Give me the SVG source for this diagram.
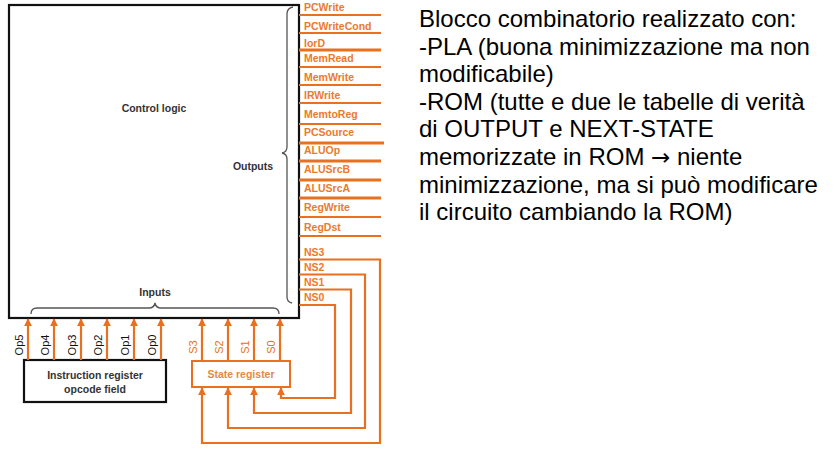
<svg xmlns="http://www.w3.org/2000/svg" width="837" height="453" viewBox="0 0 837 453">
<style>
.box{fill:#fff;stroke:#111;stroke-width:2.2}
.sig{fill:none;stroke:#e8701e;stroke-width:2.2}
.sigt{stroke-width:3}
.olab{font-family:"Liberation Sans",Arial,sans-serif;font-size:10.5px;font-weight:bold;fill:#ec7a2c}
.dlab{font-family:"Liberation Sans",Arial,sans-serif;font-size:10.5px;font-weight:bold;fill:#333}
.blab{font-family:"Liberation Sans",Arial,sans-serif;font-size:11px;fill:#111}
.slab{font-family:"Liberation Sans",Arial,sans-serif;font-size:11px;fill:#e8701e}
.brace{fill:none;stroke:#555;stroke-width:1.3}
.note{font-family:"Liberation Sans",Arial,sans-serif;font-size:24px;fill:#000}
</style>
<defs>
<marker id="ah" viewBox="0 0 10 10" refX="9" refY="5" markerWidth="3.6" markerHeight="3.6" orient="auto" markerUnits="strokeWidth">
<path d="M0,0 L10,5 L0,10 z" fill="#e8701e"/>
</marker>
</defs>

<g id="control-logic">
<rect class="box" x="9" y="5" width="290" height="313"/>
<text class="dlab" x="154" y="112" text-anchor="middle">Control logic</text>
<path class="brace" d="M293,7 Q287,8 287,14 L287,147 Q287,152 282,153 Q287,154 287,159 L287,297 Q287,302 292,303"/>
<text class="dlab" x="253" y="170" text-anchor="middle">Outputs</text>
<path class="brace" d="M31,314 Q31,308 37,308 L149,308 Q154,308 155,303 Q156,308 161,308 L273,308 Q279,308 279,314"/>
<text class="dlab" x="155" y="296" text-anchor="middle">Inputs</text>
</g>

<g id="outputs">
<text class="olab" x="304" y="11">PCWrite</text>
<text class="olab" x="304" y="29.5">PCWriteCond</text>
<text class="olab" x="304" y="47">IorD</text>
<text class="olab" x="304" y="62">MemRead</text>
<text class="olab" x="304" y="80.5">MemWrite</text>
<text class="olab" x="304" y="98.5">IRWrite</text>
<text class="olab" x="304" y="118">MemtoReg</text>
<text class="olab" x="304" y="135.5">PCSource</text>
<text class="olab" x="304" y="154">ALUOp</text>
<text class="olab" x="304" y="173">ALUSrcB</text>
<text class="olab" x="304" y="192">ALUSrcA</text>
<text class="olab" x="304" y="211">RegWrite</text>
<text class="olab" x="304" y="230.5">RegDst</text>
<text class="olab" x="304" y="256">NS3</text>
<text class="olab" x="304" y="271">NS2</text>
<text class="olab" x="304" y="286">NS1</text>
<text class="olab" x="304" y="301">NS0</text>
</g>

<g id="instruction-register">
<rect class="box" x="24" y="360" width="142" height="42"/>
<text class="dlab" x="95" y="379" text-anchor="middle">Instruction register</text>
<text class="dlab" x="95" y="393" text-anchor="middle">opcode field</text>
<text class="blab" transform="translate(23,345) rotate(-90)" text-anchor="middle">Op5</text>
<text class="blab" transform="translate(49,345) rotate(-90)" text-anchor="middle">Op4</text>
<text class="blab" transform="translate(76,345) rotate(-90)" text-anchor="middle">Op3</text>
<text class="blab" transform="translate(102,345) rotate(-90)" text-anchor="middle">Op2</text>
<text class="blab" transform="translate(129,345) rotate(-90)" text-anchor="middle">Op1</text>
<text class="blab" transform="translate(156,345) rotate(-90)" text-anchor="middle">Op0</text>
</g>

<g id="state-register">
<rect x="192" y="361" width="98" height="26" fill="#fff" stroke="#e8701e" stroke-width="2"/>
<text x="241" y="378" text-anchor="middle" font-family="Liberation Sans, Arial, sans-serif" font-size="10.5" font-weight="bold" fill="#e4884a">State register</text>
<text class="slab" transform="translate(197,347) rotate(-90)" text-anchor="middle">S3</text>
<text class="slab" transform="translate(223,347) rotate(-90)" text-anchor="middle">S2</text>
<text class="slab" transform="translate(249,347) rotate(-90)" text-anchor="middle">S1</text>
<text class="slab" transform="translate(275,347) rotate(-90)" text-anchor="middle">S0</text>
</g>

<g id="connectors">
<line class="sig" x1="299" y1="15" x2="381" y2="15"/>
<line class="sig" x1="299" y1="33" x2="381" y2="33"/>
<line class="sig sigt" x1="299" y1="50" x2="381" y2="50"/>
<line class="sig" x1="299" y1="67" x2="381" y2="67"/>
<line class="sig" x1="299" y1="85" x2="381" y2="85"/>
<line class="sig" x1="299" y1="103" x2="381" y2="103"/>
<line class="sig" x1="299" y1="124" x2="381" y2="124"/>
<line class="sig sigt" x1="299" y1="143" x2="384" y2="143"/>
<line class="sig sigt" x1="299" y1="161" x2="381" y2="161"/>
<line class="sig sigt" x1="299" y1="180" x2="381" y2="180"/>
<line class="sig sigt" x1="299" y1="198" x2="381" y2="198"/>
<line class="sig" x1="299" y1="217" x2="381" y2="217"/>
<line class="sig" x1="299" y1="236" x2="381" y2="236"/>

<polyline class="sig" points="299,259.5 380,259.5 380,443 202,443 202,388" marker-end="url(#ah)"/>
<polyline class="sig" points="299,274.5 365,274.5 365,428 228,428 228,388" marker-end="url(#ah)"/>
<polyline class="sig" points="299,289.5 351,289.5 351,413 254,413 254,388" marker-end="url(#ah)"/>
<polyline class="sig" points="299,305 335,305 335,398 281,398 281,388" marker-end="url(#ah)"/>

<line class="sig" x1="202" y1="361" x2="202" y2="319" marker-end="url(#ah)"/>
<line class="sig" x1="228" y1="361" x2="228" y2="319" marker-end="url(#ah)"/>
<line class="sig" x1="254" y1="361" x2="254" y2="319" marker-end="url(#ah)"/>
<line class="sig" x1="280" y1="361" x2="280" y2="319" marker-end="url(#ah)"/>

<line class="sig" x1="28" y1="360" x2="28" y2="319" marker-end="url(#ah)"/>
<line class="sig" x1="54" y1="360" x2="54" y2="319" marker-end="url(#ah)"/>
<line class="sig" x1="81" y1="360" x2="81" y2="319" marker-end="url(#ah)"/>
<line class="sig" x1="107" y1="360" x2="107" y2="319" marker-end="url(#ah)"/>
<line class="sig" x1="134" y1="360" x2="134" y2="319" marker-end="url(#ah)"/>
<line class="sig" x1="161" y1="360" x2="161" y2="319" marker-end="url(#ah)"/>
</g>

<g id="note">
<text class="note" x="419" y="27">Blocco combinatorio realizzato con:</text>
<text class="note" x="419" y="54.6">-PLA (buona minimizzazione ma non</text>
<text class="note" x="419" y="82.2">modificabile)</text>
<text class="note" x="419" y="109.8">-ROM (tutte e due le tabelle di verità</text>
<text class="note" x="419" y="137.4">di OUTPUT e NEXT-STATE</text>
<text class="note" x="419" y="165">memorizzate in ROM <tspan font-family="DejaVu Sans, sans-serif" font-size="23">→</tspan> niente</text>
<text class="note" x="419" y="192.6">minimizzazione, ma si può modificare</text>
<text class="note" x="419" y="220.2">il circuito cambiando la ROM)</text>
</g>
</svg>
